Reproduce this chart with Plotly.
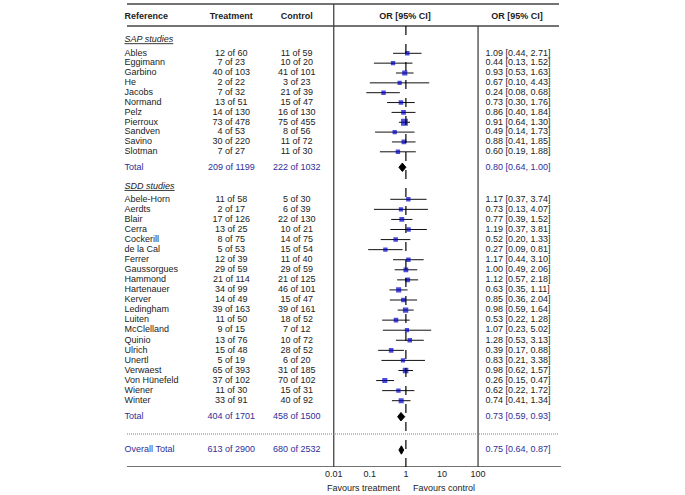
import plotly.graph_objects as go

# ---------------- data ----------------
sap_names = ["Ables", "Eggimann", "Garbino", "He", "Jacobs", "Normand", "Pelz",
             "Pierroux", "Sandven", "Savino", "Slotman"]
sap_trt_ev = [12, 7, 40, 2, 7, 13, 14, 73, 4, 30, 7]
sap_trt_n = [60, 23, 103, 22, 32, 51, 130, 478, 53, 220, 27]
sap_ctl_ev = [11, 10, 41, 3, 21, 15, 16, 75, 8, 11, 11]
sap_ctl_n = [59, 20, 101, 23, 39, 47, 130, 455, 56, 72, 30]
sap_or = [1.09, 0.44, 0.93, 0.67, 0.24, 0.73, 0.86, 0.91, 0.49, 0.88, 0.60]
sap_lo = [0.44, 0.13, 0.53, 0.10, 0.08, 0.30, 0.40, 0.64, 0.14, 0.41, 0.19]
sap_hi = [2.71, 1.52, 1.63, 4.43, 0.68, 1.76, 1.84, 1.30, 1.73, 1.85, 1.88]

sdd_names = ["Abele-Horn", "Aerdts", "Blair", "Cerra", "Cockerill", "de la Cal",
             "Ferrer", "Gaussorgues", "Hammond", "Hartenauer", "Kerver",
             "Ledingham", "Luiten", "McClelland", "Quinio", "Ulrich", "Unertl",
             "Verwaest", "Von Hünefeld", "Wiener", "Winter"]
sdd_trt_ev = [11, 2, 17, 13, 8, 5, 12, 29, 21, 34, 14, 39, 11, 9, 13, 15, 5, 65, 37, 11, 33]
sdd_trt_n = [58, 17, 126, 25, 75, 53, 39, 59, 114, 99, 49, 163, 50, 15, 76, 48, 19, 393, 102, 30, 91]
sdd_ctl_ev = [5, 6, 22, 10, 14, 15, 11, 29, 21, 46, 15, 39, 18, 7, 10, 28, 6, 31, 70, 15, 40]
sdd_ctl_n = [30, 39, 130, 21, 75, 54, 40, 59, 125, 101, 47, 161, 52, 12, 72, 52, 20, 185, 102, 31, 92]
sdd_or = [1.17, 0.73, 0.77, 1.19, 0.52, 0.27, 1.17, 1.00, 1.12, 0.63, 0.85, 0.98,
          0.53, 1.07, 1.28, 0.39, 0.83, 0.98, 0.26, 0.62, 0.74]
sdd_lo = [0.37, 0.13, 0.39, 0.37, 0.20, 0.09, 0.44, 0.49, 0.57, 0.35, 0.36, 0.59,
          0.22, 0.23, 0.53, 0.17, 0.21, 0.62, 0.15, 0.22, 0.41]
sdd_hi = [3.74, 4.07, 1.52, 3.81, 1.33, 0.81, 3.10, 2.06, 2.18, 1.11, 2.04, 1.64,
          1.28, 5.02, 3.13, 0.88, 3.38, 1.57, 0.47, 1.72, 1.34]

total_labels = ["Total", "Total", "Overall Total"]
total_trt_ev = [209, 404, 613]
total_trt_n = [1199, 1701, 2900]
total_ctl_ev = [222, 458, 680]
total_ctl_n = [1032, 1500, 2532]
total_or = [0.80, 0.73, 0.75]
total_lo = [0.64, 0.59, 0.64]
total_hi = [1.00, 0.93, 0.87]

tick_vals = [0.01, 0.1, 1, 10, 100]
tick_text = ["0.01", "0.1", "1", "10", "100"]

# ---------------- layout helpers ----------------
W, H = 685, 495
AX_Y = 467
X_NAME, X_TRT, X_CTL, X_ORT = 118.5, 228, 295, 488.5
L_LEFT, L_RIGHT = 121, 564
X_VL, X_VR = 333, 481

y_sap = [53.3 + i * 9.85 for i in range(len(sap_names))]
y_sdd = [199.3 + i * 10.07 for i in range(len(sdd_names))]
y_tot = [167.3, 416.7, 450.0]

FONT = "Liberation Sans, Arial, Helvetica, sans-serif"
TXT = "#222222"
BLUE_TXT = "#2E2E99"
SQ = "#0000CC"
FS = 9


def fmt_ci(o, l, h):
    return f"{o:.2f} [{l:.2f}, {h:.2f}]"


names = sap_names + sdd_names
ys = y_sap + y_sdd
trt = [f"{a} of {b}" for a, b in zip(sap_trt_ev + sdd_trt_ev, sap_trt_n + sdd_trt_n)]
ctl = [f"{a} of {b}" for a, b in zip(sap_ctl_ev + sdd_ctl_ev, sap_ctl_n + sdd_ctl_n)]
ors = sap_or + sdd_or
los = sap_lo + sdd_lo
his = sap_hi + sdd_hi
ort = [fmt_ci(o, l, h) for o, l, h in zip(ors, los, his)]

# weights from counts -> square sizes
ev_t = sap_trt_ev + sdd_trt_ev
n_t = sap_trt_n + sdd_trt_n
ev_c = sap_ctl_ev + sdd_ctl_ev
n_c = sap_ctl_n + sdd_ctl_n
wts = [1.0 / (1 / a + 1 / (n - a) + 1 / c + 1 / (m - c)) for a, n, c, m in zip(ev_t, n_t, ev_c, n_c)]
wmin, wmax = min(wts), max(wts)
sizes = [4.2 + 2.6 * (w - wmin) / (wmax - wmin) for w in wts]

fig = go.Figure()


def text_trace(x, y, text, pos, color=TXT, size=FS):
    fig.add_trace(go.Scatter(x=x, y=y, text=text, mode="text", textposition=pos,
                             textfont=dict(family=FONT, size=size, color=color),
                             hoverinfo="skip", showlegend=False, cliponaxis=False))


# study text columns
text_trace([X_NAME] * len(names), ys, names, "middle right")
text_trace([X_TRT] * len(names), ys, trt, "middle center")
text_trace([X_CTL] * len(names), ys, ctl, "middle center")
text_trace([X_ORT] * len(names), ys, ort, "middle right")

# totals text
text_trace([X_NAME] * 3, y_tot, total_labels, "middle right", BLUE_TXT)
text_trace([X_TRT] * 3, y_tot, [f"{a} of {b}" for a, b in zip(total_trt_ev, total_trt_n)],
           "middle center", BLUE_TXT)
text_trace([X_CTL] * 3, y_tot, [f"{a} of {b}" for a, b in zip(total_ctl_ev, total_ctl_n)],
           "middle center", BLUE_TXT)
text_trace([X_ORT] * 3, y_tot, [fmt_ci(o, l, h) for o, l, h in zip(total_or, total_lo, total_hi)],
           "middle right", BLUE_TXT)

# section labels
text_trace([X_NAME] * 2, [40.0, 186.7], ["<i><u>SAP studies</u></i>", "<i><u>SDD studies</u></i>"],
           "middle right")

# headers
text_trace([X_NAME], [17], ["<b>Reference</b>"], "middle right")
text_trace([X_TRT, X_CTL, 406, 521], [17] * 4,
           ["<b>Treatment</b>", "<b>Control</b>", "<b>OR [95% CI]</b>", "<b>OR [95% CI]</b>"],
           "middle center")

# CI lines
cx, cy = [], []
for l, h, y in zip(los, his, ys):
    cx += [l, h, None]
    cy += [y, y, None]
fig.add_trace(go.Scatter(x=cx, y=cy, xaxis="x2", yaxis="y", mode="lines",
                         line=dict(color="#111111", width=1), hoverinfo="skip",
                         showlegend=False))
# squares
fig.add_trace(go.Scatter(x=ors, y=ys, xaxis="x2", yaxis="y", mode="markers",
                         marker=dict(symbol="square", size=sizes, color=SQ, line=dict(width=0)),
                         hoverinfo="skip", showlegend=False))

# diamonds
dx, dy = [], []
HALF = 4.2
for o, l, h, y in zip(total_or, total_lo, total_hi, y_tot):
    dx += [l, o, h, o, l, None]
    dy += [y, y - HALF, y, y + HALF, y, None]
fig.add_trace(go.Scatter(x=dx, y=dy, xaxis="x2", yaxis="y", mode="lines", fill="toself",
                         fillcolor="black", line=dict(color="black", width=1),
                         hoverinfo="skip", showlegend=False))

# shapes
LC = "#444444"
shapes = [
    dict(type="line", xref="x", yref="y", x0=L_LEFT, x1=L_RIGHT, y0=4, y1=4,
         line=dict(color=LC, width=1.5)),
    dict(type="line", xref="x", yref="y", x0=L_LEFT, x1=L_RIGHT, y0=26, y1=26,
         line=dict(color=LC, width=1.5)),
    dict(type="line", xref="x", yref="y", x0=X_VL, x1=X_VL, y0=4, y1=AX_Y,
         line=dict(color=LC, width=1.3)),
    dict(type="line", xref="x", yref="y", x0=X_VR, x1=X_VR, y0=26, y1=AX_Y,
         line=dict(color=LC, width=1.3)),
    dict(type="line", xref="x", yref="y", x0=L_LEFT, x1=L_RIGHT, y0=434, y1=434,
         line=dict(color="#808080", width=1, dash="1px,1px")),
    dict(type="line", xref="x", yref="y", x0=L_LEFT, x1=L_RIGHT + 2, y0=AX_Y, y1=AX_Y,
         line=dict(color=LC, width=1.5)),
    dict(type="line", xref="x2", yref="y", x0=1, x1=1, y0=26, y1=AX_Y,
         line=dict(color="black", width=1.2, dash="dash")),
]

FAV_Y = (AX_Y - 488) / AX_Y  # paper coordinate just below the axis

fig.update_layout(
    width=W, height=H,
    margin=dict(l=0, r=0, t=0, b=H - AX_Y),
    paper_bgcolor="white", plot_bgcolor="rgba(0,0,0,0)",
    showlegend=False,
    shapes=shapes,
    xaxis=dict(range=[0, W], visible=False, domain=[0, 1], fixedrange=True),
    xaxis2=dict(type="log", range=[-2, 2], domain=[X_VL / W, X_VR / W], anchor="y",
                tickvals=tick_vals, ticktext=tick_text, ticks="", showgrid=False,
                zeroline=False, showline=False, fixedrange=True,
                tickfont=dict(family=FONT, size=FS, color=TXT)),
    yaxis=dict(range=[AX_Y, 0], visible=False, fixedrange=True),
    annotations=[
        dict(x=404, y=FAV_Y, xref="x", yref="paper", text="Favours treatment", showarrow=False,
             xanchor="right", yanchor="middle", font=dict(family=FONT, size=FS, color=TXT)),
        dict(x=412, y=FAV_Y, xref="x", yref="paper", text="Favours control", showarrow=False,
             xanchor="left", yanchor="middle", font=dict(family=FONT, size=FS, color=TXT)),
    ],
)

fig.write_html("out.html", config={"displayModeBar": False},
               post_script="document.body.style.margin='0';")
